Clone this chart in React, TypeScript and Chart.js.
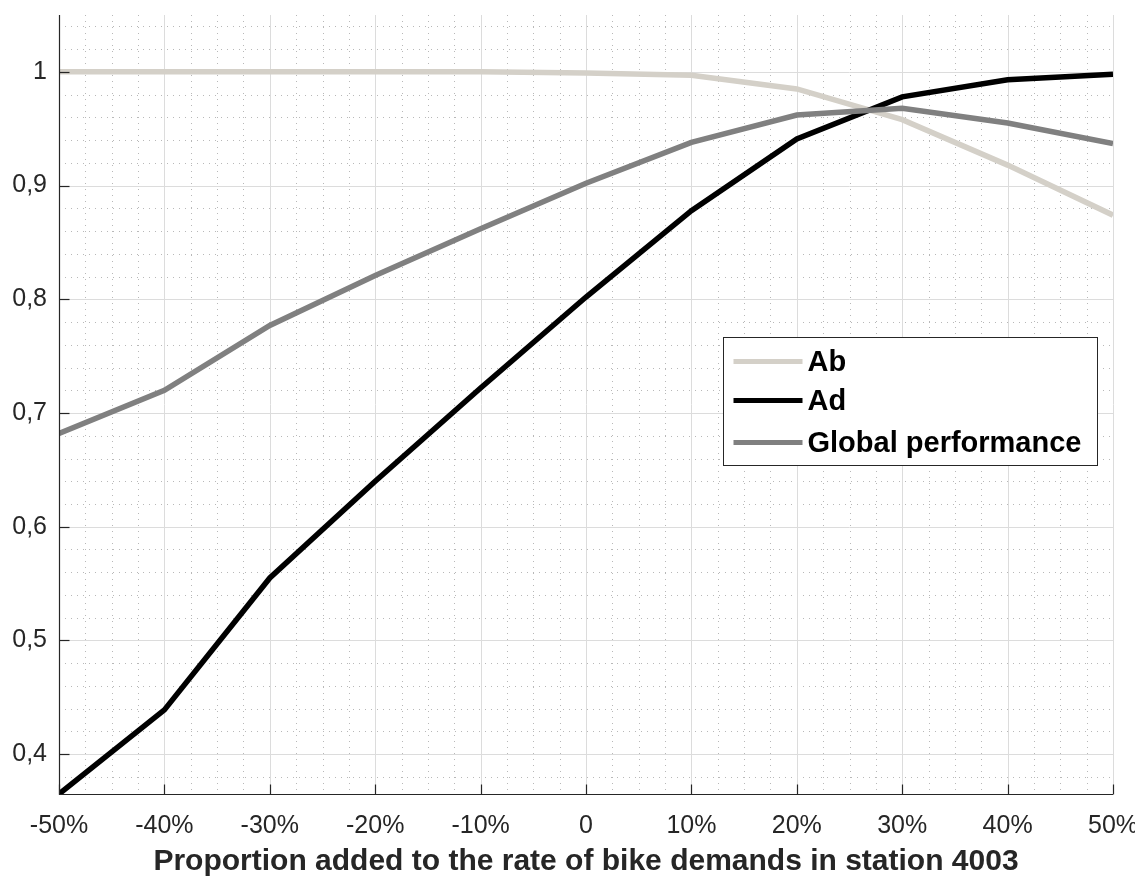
import React, { useEffect, useRef } from "react";
import { Chart, registerables } from "chart.js";

Chart.register(...registerables);

const xValues = [-50, -40, -30, -20, -10, 0, 10, 20, 30, 40, 50];
const xTickLabels = ["-50%", "-40%", "-30%", "-20%", "-10%", "0", "10%", "20%", "30%", "40%", "50%"];
const abValues = [1, 1, 1, 1, 1, 0.999, 0.997, 0.985, 0.958, 0.918, 0.874];
const adValues = [0.365, 0.439, 0.555, 0.64, 0.722, 0.802, 0.878, 0.941, 0.978, 0.993, 0.998];
const globalValues = [0.682, 0.72, 0.777, 0.821, 0.862, 0.902, 0.938, 0.962, 0.968, 0.955, 0.937];
const yTickValues = [0.4, 0.5, 0.6, 0.7, 0.8, 0.9, 1];
const yTickLabels = ["0,4", "0,5", "0,6", "0,7", "0,8", "0,9", "1"];
const seriesNames = ["Ab", "Ad", "Global performance"];
const seriesColors = ["#d4d0c8", "#000000", "#808080"];
const xTitle = "Proportion added to the rate of bike demands in station 4003";

const FONT = "'Liberation Sans', Arial, Helvetica, sans-serif";
const AXIS_COLOR = "#262626";

const matlabPlugin = {
  id: "matlabGrid",
  beforeDatasetsDraw(chart: any) {
    const { ctx, chartArea: ca, scales } = chart;
    const xs = scales.x;
    const ys = scales.y;
    ctx.save();
    // minor dotted grid
    ctx.strokeStyle = "#b8b8b8";
    ctx.lineWidth = 1;
    ctx.setLineDash([1, 5]);
    for (let i = -20; i <= 20; i++) {
      if (i % 4 === 0) continue;
      const px = Math.round(xs.getPixelForValue(i * 2.5)) + 0.5;
      ctx.beginPath();
      ctx.moveTo(px, ca.top);
      ctx.lineTo(px, ca.bottom);
      ctx.stroke();
    }
    for (let i = 19; i <= 52; i++) {
      if (i % 5 === 0) continue;
      const v = i * 0.02;
      if (v < ys.min || v > ys.max) continue;
      const py = Math.round(ys.getPixelForValue(v)) + 0.5;
      ctx.beginPath();
      ctx.moveTo(ca.left, py);
      ctx.lineTo(ca.right, py);
      ctx.stroke();
    }
    // major grid
    ctx.setLineDash([]);
    ctx.strokeStyle = "#dcdcdc";
    xValues.forEach((v) => {
      const px = Math.round(xs.getPixelForValue(v)) + 0.5;
      ctx.beginPath();
      ctx.moveTo(px, ca.top);
      ctx.lineTo(px, ca.bottom);
      ctx.stroke();
    });
    yTickValues.forEach((v) => {
      const py = Math.round(ys.getPixelForValue(v)) + 0.5;
      ctx.beginPath();
      ctx.moveTo(ca.left, py);
      ctx.lineTo(ca.right, py);
      ctx.stroke();
    });
    ctx.restore();
  },
  afterDatasetsDraw(chart: any) {
    const { ctx, chartArea: ca, scales } = chart;
    const xs = scales.x;
    const ys = scales.y;
    ctx.save();
    ctx.strokeStyle = AXIS_COLOR;
    ctx.lineWidth = 1.2;
    const left = Math.round(ca.left) + 0.5;
    const bottom = Math.round(ca.bottom) + 0.5;
    ctx.beginPath();
    ctx.moveTo(left, ca.top);
    ctx.lineTo(left, bottom);
    ctx.lineTo(ca.right, bottom);
    ctx.stroke();
    const tl = 10;
    xValues.forEach((v) => {
      const px = Math.round(xs.getPixelForValue(v)) + 0.5;
      ctx.beginPath();
      ctx.moveTo(px, bottom);
      ctx.lineTo(px, bottom - tl);
      ctx.stroke();
    });
    yTickValues.forEach((v) => {
      const py = Math.round(ys.getPixelForValue(v)) + 0.5;
      ctx.beginPath();
      ctx.moveTo(left, py);
      ctx.lineTo(left + tl, py);
      ctx.stroke();
    });
    ctx.restore();
  },
  afterDraw(chart: any) {
    const { ctx, chartArea: ca } = chart;
    ctx.save();
    const bw = 374;
    const bh = 128;
    const bx = Math.round(ca.right - 16 - bw) + 0.5;
    const by = Math.round(ca.top + 322) + 0.5;
    ctx.fillStyle = "#ffffff";
    ctx.fillRect(bx, by, bw, bh);
    ctx.strokeStyle = AXIS_COLOR;
    ctx.lineWidth = 1;
    ctx.strokeRect(bx, by, bw, bh);
    const offsets = [24, 63, 105];
    ctx.font = `bold 29px ${FONT}`;
    ctx.textBaseline = "middle";
    ctx.textAlign = "left";
    seriesNames.forEach((name, i) => {
      const ly = by + offsets[i];
      ctx.strokeStyle = seriesColors[i];
      ctx.lineWidth = 5;
      ctx.beginPath();
      ctx.moveTo(bx + 10, ly);
      ctx.lineTo(bx + 79, ly);
      ctx.stroke();
      ctx.fillStyle = "#000000";
      ctx.fillText(name, bx + 84, ly + 1);
    });
    ctx.restore();
  },
};

export default function App() {
  const canvasRef = useRef<HTMLCanvasElement | null>(null);

  useEffect(() => {
    const canvas = canvasRef.current;
    if (!canvas) return;
    const mk = (vals: number[]) => xValues.map((x, i) => ({ x, y: vals[i] }));
    const chart = new Chart(canvas, {
      type: "line",
      data: {
        datasets: [
          {
            label: seriesNames[0],
            data: mk(abValues),
            borderColor: seriesColors[0],
            borderWidth: 5.5,
            pointRadius: 0,
            tension: 0,
            order: 3,
          },
          {
            label: seriesNames[1],
            data: mk(adValues),
            borderColor: seriesColors[1],
            borderWidth: 5.5,
            pointRadius: 0,
            tension: 0,
            order: 2,
          },
          {
            label: seriesNames[2],
            data: mk(globalValues),
            borderColor: seriesColors[2],
            borderWidth: 5.5,
            pointRadius: 0,
            tension: 0,
            order: 1,
          },
        ],
      },
      options: {
        responsive: false,
        animation: false,
        devicePixelRatio: 1,
        layout: { padding: { left: 0, top: 15, right: 22, bottom: 0 } },
        plugins: {
          legend: { display: false },
          tooltip: { enabled: false },
        },
        scales: {
          x: {
            type: "linear",
            min: -50,
            max: 50,
            grid: { display: false },
            border: { display: false },
            afterBuildTicks: (scale: any) => {
              scale.ticks = xValues.map((v) => ({ value: v }));
            },
            afterFit: (scale: any) => {
              scale.height = 83;
              scale.paddingLeft = 0;
              scale.paddingRight = 0;
            },
            ticks: {
              autoSkip: false,
              maxRotation: 0,
              padding: 9,
              color: AXIS_COLOR,
              font: { family: FONT, size: 25 },
              callback: (_v: any, i: number) => xTickLabels[i],
            },
            title: {
              display: true,
              text: xTitle,
              color: AXIS_COLOR,
              font: { family: FONT, size: 30, weight: "bold" },
              padding: { top: 0, bottom: -3 },
            },
          },
          y: {
            type: "linear",
            min: 0.365,
            max: 1.05,
            grid: { display: false },
            border: { display: false },
            afterBuildTicks: (scale: any) => {
              scale.ticks = yTickValues.map((v) => ({ value: v }));
            },
            afterFit: (scale: any) => {
              scale.width = 59;
              scale.paddingTop = 0;
              scale.paddingBottom = 0;
            },
            ticks: {
              padding: 4,
              color: AXIS_COLOR,
              font: { family: FONT, size: 25 },
              callback: (_v: any, i: number) => yTickLabels[i],
            },
          },
        },
      },
      plugins: [matlabPlugin],
    } as any);
    return () => chart.destroy();
  }, []);

  return (
    <div style={{ position: "fixed", left: 0, top: 0, width: 1135, height: 877, background: "#fff" }}>
      <canvas ref={canvasRef} width={1135} height={877} style={{ display: "block" }} />
    </div>
  );
}
